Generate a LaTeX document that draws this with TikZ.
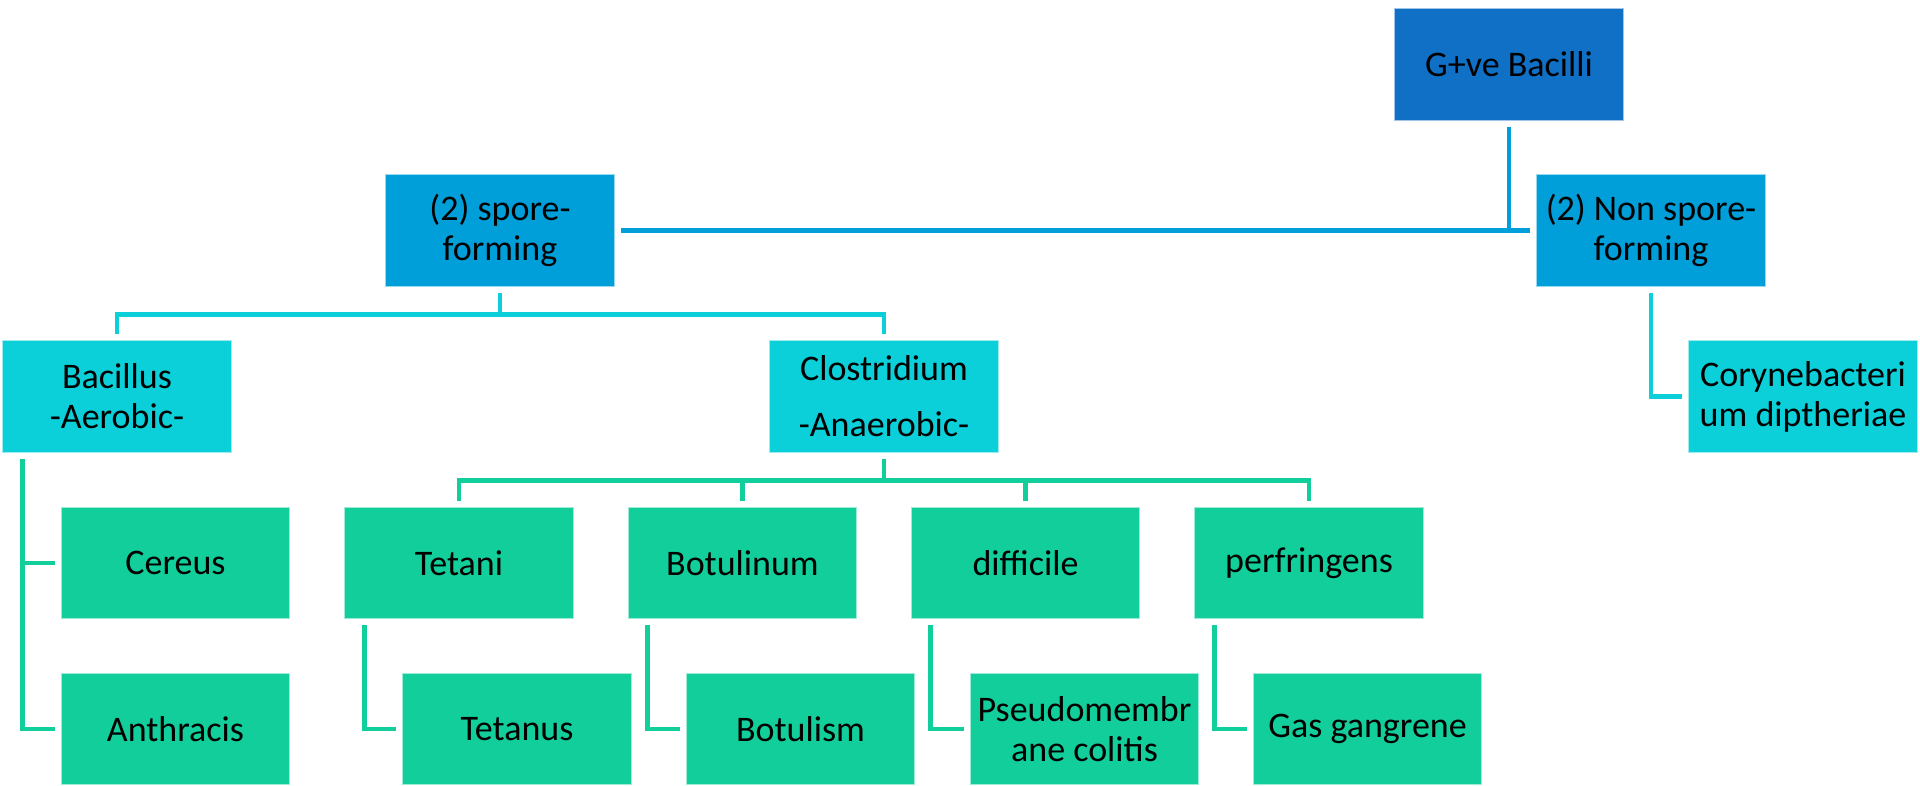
\documentclass[tikz,border=0pt]{standalone}
\usepackage{fontspec}
\setmainfont{Carlito}
\usetikzlibrary{calc}
\definecolor{cTop}{HTML}{1070C6}
\definecolor{cMid}{HTML}{009FD9}
\definecolor{cCyan}{HTML}{0BCFD9}
\definecolor{cGreen}{HTML}{12CE9A}
\begin{document}
\begin{tikzpicture}[x=1pt,y=-1pt,
  box/.style={rectangle, draw=white!60!#1, line width=1pt, fill=#1, minimum width=228.5pt, minimum height=111.5pt,
    inner sep=2pt, align=center, text=black, font=\fontsize{36}{40}\selectfont},
  conn/.style={draw=#1, line width=4.6pt, shorten <=6pt, shorten >=6pt},
]
\useasboundingbox (0,0) rectangle (1920,786);
% nodes
\node[box=cTop] (gve) at (1509,64.5) {G+ve Bacilli};
\node[box=cMid] (spore) at (500,230.5) {(2) spore-\\forming};
\node[box=cMid] (nonspore) at (1651,230.5) {(2) Non spore-\\forming};
\node[box=cCyan] (bacillus) at (117,396.5) {Bacillus\\-Aerobic-};
\node[box=cCyan] (clost) at (884,396.5) {Clostridium\\[16pt]-Anaerobic-};
\node[box=cCyan] (coryne) at (1803,396.5) {Corynebacteri\\um diptheriae};
\node[box=cGreen] (cereus) at (175.5,563) {Cereus};
\node[box=cGreen] (anthracis) at (175.5,729) {Anthracis};
\node[box=cGreen] (tetani) at (459,563) {Tetani};
\node[box=cGreen] (botulinum) at (742.5,563) {Botulinum};
\node[box=cGreen] (difficile) at (1025.5,563) {difficile};
\node[box=cGreen] (perfringens) at (1309,563) {perfringens};
\node[box=cGreen] (tetanus) at (517,729) {Tetanus};
\node[box=cGreen] (botulism) at (800.5,729) {Botulism};
\node[box=cGreen] (pseudo) at (1084.5,729) {Pseudomembr\\ane colitis};
\node[box=cGreen] (gas) at (1367.5,729) {Gas gangrene};
% level 1 connectors
\draw[conn=cMid] (gve.south) |- (spore.east);
\draw[conn=cMid] (gve.south) |- (nonspore.west);
% level 2 connectors
\draw[conn=cCyan] (spore.south) -- ++(0,27.5) -| (bacillus.north);
\draw[conn=cCyan] (spore.south) -- ++(0,27.5) -| (clost.north);
\draw[conn=cCyan] (nonspore.south) |- (coryne.west);
% level 3 connectors
\draw[conn=cGreen] ([xshift=20pt]bacillus.south west) |- (cereus.west);
\draw[conn=cGreen] ([xshift=20pt]bacillus.south west) |- (anthracis.west);
\draw[conn=cGreen] (clost.south) -- ++(0,27.5) -| (tetani.north);
\draw[conn=cGreen] (clost.south) -- ++(0,27.5) -| (botulinum.north);
\draw[conn=cGreen] (clost.south) -- ++(0,27.5) -| (difficile.north);
\draw[conn=cGreen] (clost.south) -- ++(0,27.5) -| (perfringens.north);
\draw[conn=cGreen] ([xshift=20pt]tetani.south west) |- (tetanus.west);
\draw[conn=cGreen] ([xshift=20pt]botulinum.south west) |- (botulism.west);
\draw[conn=cGreen] ([xshift=20pt]difficile.south west) |- (pseudo.west);
\draw[conn=cGreen] ([xshift=20pt]perfringens.south west) |- (gas.west);
\end{tikzpicture}
\end{document}
